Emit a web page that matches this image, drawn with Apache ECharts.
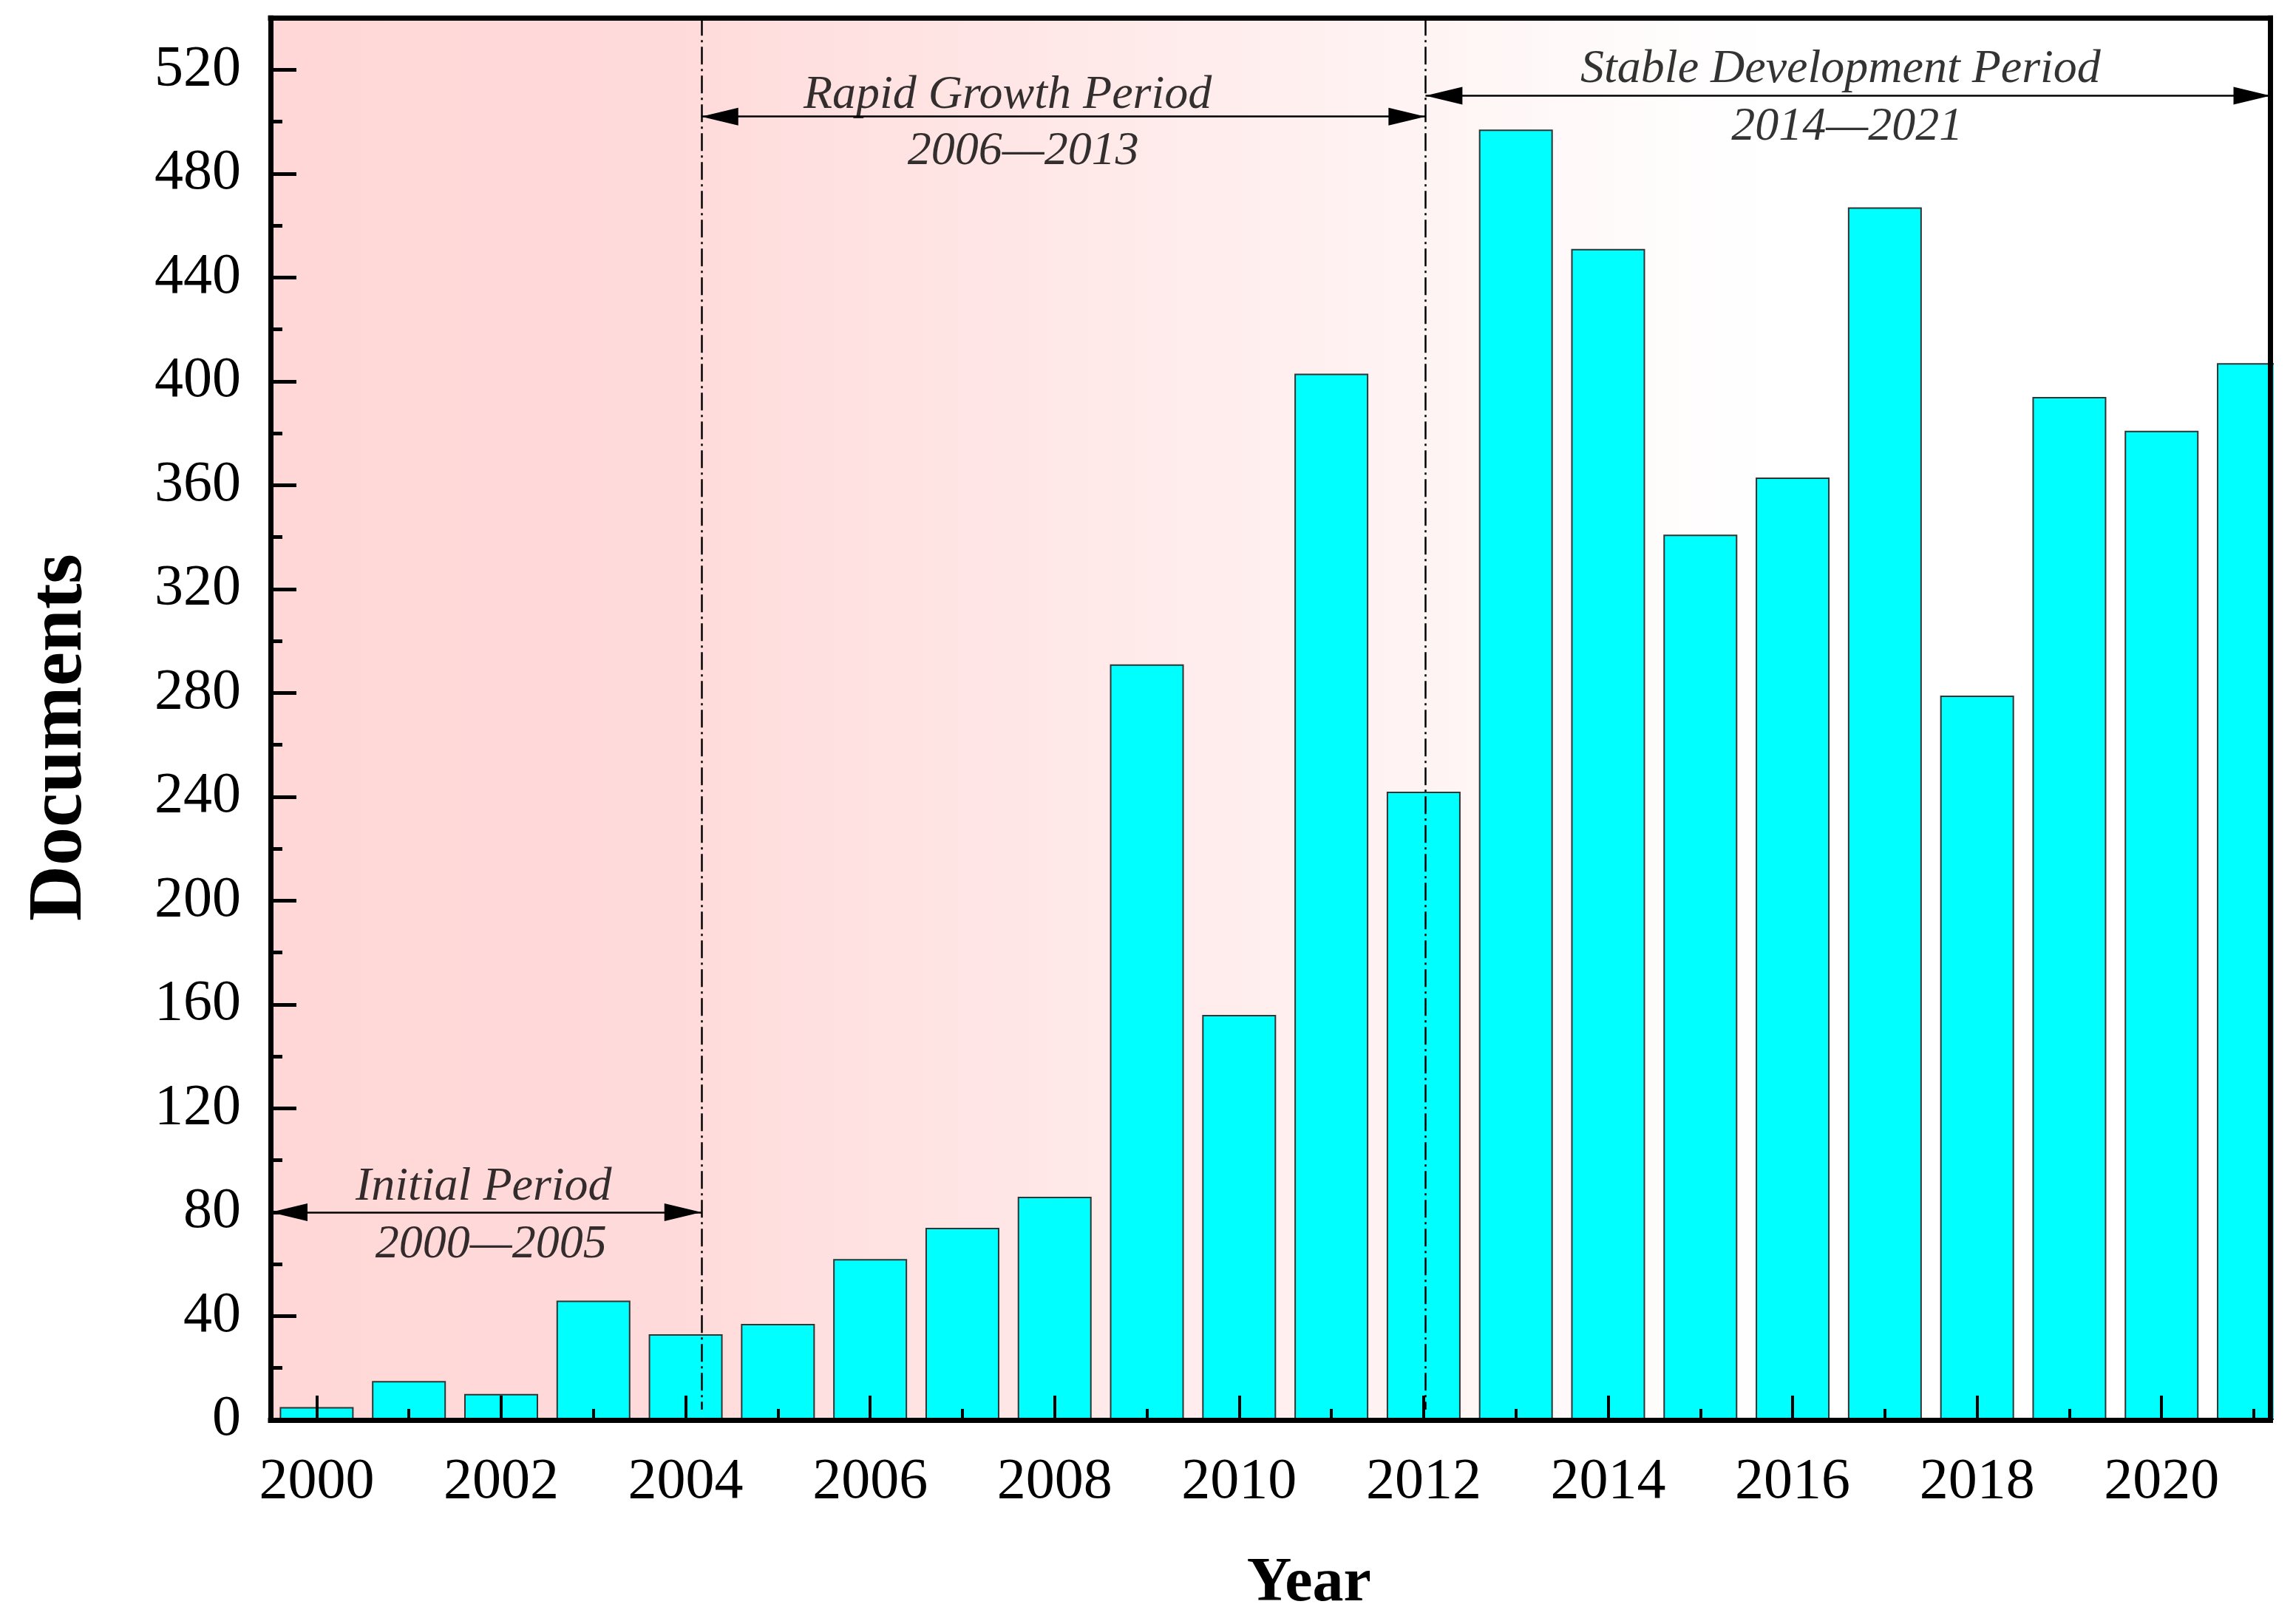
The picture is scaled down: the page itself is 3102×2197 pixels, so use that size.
<!DOCTYPE html>
<html>
<head>
<meta charset="utf-8">
<script src="https://cdn.jsdelivr.net/npm/echarts@6/dist/echarts.min.js"></script>
<style>
html,body{margin:0;padding:0;background:#fff;}
#chart{width:3102px;height:2197px;}
</style>
</head>
<body>
<div id="chart"></div>
<script>
// ---- data ----
const years = [2000,2001,2002,2003,2004,2005,2006,2007,2008,2009,2010,2011,2012,2013,2014,2015,2016,2017,2018,2019,2020,2021];
const documents = [5,15,10,46,33,37,62,74,86,291,156,403,242,497,451,341,363,467,279,394,381,407];
const xMajorTicks = [2000,2002,2004,2006,2008,2010,2012,2014,2016,2018,2020];
const xMinorTicks = [2001,2003,2005,2007,2009,2011,2013,2015,2017,2019,2021];
const yTickStep = 40;
const yMinorStep = 20;
const yMax = 540;
const xMin = 1999.5;
const xMax = 2021.18;
const periodBounds = [2004.17, 2012.02];
const periodTitles = ['Initial Period', 'Rapid Growth Period', 'Stable Development Period'];
const periodRanges = ['2000\u20142005', '2006\u20142013', '2014\u20142021'];
const arrowLevels = [80, 502, 510];
const titleAnchors = [[2001.81, 89.5], [2007.49, 510], [2016.52, 520]];
const rangeAnchors = [[2001.89, 67.5], [2007.66, 488.5], [2016.59, 498]];

const FONT = '"Liberation Serif", "Times New Roman", serif';

const chart = echarts.init(document.getElementById('chart'), null, {renderer: 'canvas'});

const barData = years.map((y, i) => [y, documents[i]]);

const arrowStart = [xMin, periodBounds[0], periodBounds[1]];
const arrowEnd = [periodBounds[0], periodBounds[1], xMax];

const arrowLines = arrowLevels.map((lv, i) => [
  {coord: [arrowStart[i], lv]},
  {coord: [arrowEnd[i], lv]}
]);
const boundLines = periodBounds.map(b => [
  {coord: [b, yMax]},
  {coord: [b, 4]}
]);

const textData = [];
periodTitles.forEach((t, i) => textData.push([titleAnchors[i][0], titleAnchors[i][1], t]));
periodRanges.forEach((t, i) => textData.push([rangeAnchors[i][0], rangeAnchors[i][1], t]));

const axisLineStyle = {color: '#000', width: 7, cap: 'square'};

const option = {
  animation: false,
  backgroundColor: '#fff',
  grid: {
    left: 366, right: 30.5, top: 24.2, bottom: 276,
    show: true,
    borderWidth: 0,
    backgroundColor: {
      type: 'linear', x: 0, y: 0, x2: 1, y2: 0,
      colorStops: [
        {offset: 0, color: '#FFD7D7'},
        {offset: 0.2, color: '#FFDADA'},
        {offset: 0.26, color: '#FFDFDF'},
        {offset: 0.4, color: '#FFE8E8'},
        {offset: 0.58, color: '#FFF4F4'},
        {offset: 0.68, color: '#FFFBFB'},
        {offset: 0.75, color: '#FFFFFF'},
        {offset: 1, color: '#FFFFFF'}
      ]
    }
  },
  // white mask right of the plot frame, hiding the part of the last bar that runs past the frame
  graphic: [{
    type: 'rect', right: 0, top: 0, z: 50, silent: true,
    shape: {width: 26, height: 2197},
    style: {fill: '#fff'}
  }],
  xAxis: [
    {
      type: 'value', min: xMin, max: xMax, position: 'bottom', z: 10,
      axisLine: {show: true, onZero: false, lineStyle: axisLineStyle},
      axisTick: {show: true, inside: true, length: 33, customValues: xMajorTicks, lineStyle: {color: '#000', width: 4}},
      axisLabel: {show: true, customValues: xMajorTicks, margin: 46, fontSize: 78, fontFamily: FONT, color: '#000', formatter: v => String(Math.round(v))},
      splitLine: {show: false},
      name: 'Year', nameLocation: 'middle', nameGap: 180,
      nameTextStyle: {fontSize: 84, fontWeight: 'bold', fontFamily: FONT, color: '#000', padding: [0, 0, 0, 104]}
    },
    {
      type: 'value', min: xMin, max: xMax, position: 'bottom', z: 9,
      axisLine: {show: false, onZero: false},
      axisTick: {show: true, inside: true, length: 15, customValues: xMinorTicks, lineStyle: {color: '#000', width: 4}},
      axisLabel: {show: false},
      splitLine: {show: false}
    },
    {
      type: 'value', min: xMin, max: xMax, position: 'top', z: 10,
      axisLine: {show: true, onZero: false, lineStyle: axisLineStyle},
      axisTick: {show: false}, axisLabel: {show: false}, splitLine: {show: false}
    }
  ],
  yAxis: [
    {
      type: 'value', min: 0, max: yMax, interval: yTickStep, position: 'left', z: 10,
      axisLine: {show: true, onZero: false, lineStyle: axisLineStyle},
      axisTick: {show: true, inside: true, length: 35, lineStyle: {color: '#000', width: 5}},
      axisLabel: {show: true, margin: 40, fontSize: 78, fontFamily: FONT, color: '#000', showMaxLabel: false},
      splitLine: {show: false},
      name: 'Documents', nameLocation: 'middle', nameGap: 232,
      nameTextStyle: {fontSize: 104, fontWeight: 'bold', fontFamily: FONT, color: '#000', padding: [0, 50, 0, 0]}
    },
    {
      type: 'value', min: 0, max: yMax, interval: yMinorStep, position: 'left', offset: 0, z: 9,
      axisLine: {show: false, onZero: false},
      axisTick: {show: true, inside: true, length: 16, lineStyle: {color: '#000', width: 5}},
      axisLabel: {show: false},
      splitLine: {show: false}
    },
    {
      type: 'value', min: 0, max: yMax, position: 'right', offset: 0, z: 60,
      axisLine: {show: true, onZero: false, lineStyle: axisLineStyle},
      axisTick: {show: false}, axisLabel: {show: false}, splitLine: {show: false}
    }
  ],
  series: [
    {
      type: 'bar', xAxisIndex: 0, yAxisIndex: 0,
      data: barData,
      barWidth: 100,
      clip: true,
      itemStyle: {color: '#00FFFF', borderColor: '#333', borderWidth: 2},
      z: 2
    },
    {
      type: 'line', xAxisIndex: 0, yAxisIndex: 0, data: [],
      markLine: {
        silent: true, symbol: 'none', animation: false,
        label: {show: false},
        lineStyle: {color: '#000', width: 2.5, type: [24, 6, 3, 6]},
        emphasis: {disabled: true},
        data: boundLines
      },
      z: 3
    },
    {
      type: 'line', xAxisIndex: 0, yAxisIndex: 0, data: [],
      markLine: {
        silent: true, symbol: ['triangle', 'triangle'], symbolSize: [24, 50],
        symbolOffset: [[0, 25], [0, 25]],
        animation: false,
        label: {show: false},
        lineStyle: {color: '#000', width: 2.5, type: 'solid'},
        itemStyle: {color: '#000'},
        emphasis: {disabled: true},
        data: arrowLines
      },
      z: 4
    },
    {
      type: 'scatter', xAxisIndex: 0, yAxisIndex: 0,
      data: textData,
      symbolSize: 0,
      silent: true,
      label: {
        show: true, position: 'inside', formatter: p => p.data[2],
        fontSize: 64, fontStyle: 'italic', fontFamily: FONT, color: '#000',
        textBorderWidth: 0, textShadowBlur: 0
      },
      z: 5
    }
  ]
};
chart.setOption(option);
</script>
</body>
</html>
